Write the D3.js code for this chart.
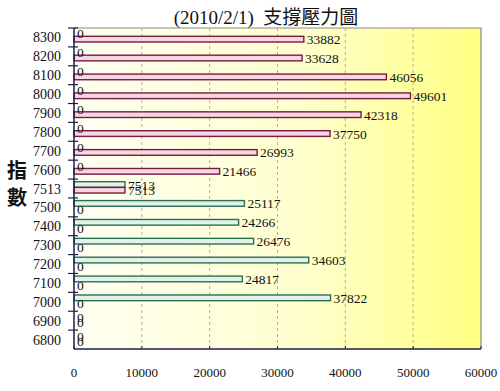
<!DOCTYPE html>
<html><head><meta charset="utf-8">
<script src="https://cdn.jsdelivr.net/npm/d3@7"></script>
<style>body{margin:0;background:#fff}</style>
</head><body><svg id="c" width="500" height="391"></svg>
<script>
const categories = ["8300","8200","8100","8000","7900","7800","7700","7600","7513","7500","7400","7300","7200","7100","7000","6900","6800"];
const support  = [0,0,0,0,0,0,0,0,7513,25117,24266,26476,34603,24817,37822,0,0];
const pressure = [33882,33628,46056,49601,42318,37750,26993,21466,7513,0,0,0,0,0,0,0,0];
const xTicks = [0,10000,20000,30000,40000,50000,60000];
const title = "(2010/2/1)  支撐壓力圖";
const axisTitle = ["指","數"];

const svg = d3.select("#c");
const L=74, R=481, T=28, B=349;
const x = d3.scaleLinear().domain([0,60000]).range([L,R]);
const y = d3.scaleBand().domain(categories).range([T,B]);
const serif = "'Liberation Serif','Times New Roman',serif";

const defs = svg.append("defs");
const g = defs.append("linearGradient").attr("id","bg");
g.append("stop").attr("offset","0%").attr("stop-color","#fffff2");
g.append("stop").attr("offset","55%").attr("stop-color","#ffffd0");
g.append("stop").attr("offset","100%").attr("stop-color","#ffff80");
svg.append("rect").attr("x",L).attr("y",T).attr("width",R-L).attr("height",B-T).attr("fill","url(#bg)");

// grid
svg.append("g").selectAll("line").data(xTicks.slice(1,-1)).join("line")
  .attr("x1",d=>x(d)).attr("x2",d=>x(d)).attr("y1",T).attr("y2",B)
  .attr("stroke","#9a9a9a").attr("stroke-dasharray","3,3").attr("stroke-width",0.8);

// border top/right
svg.append("path").attr("d",`M${L},${T}H${R}V${B}`).attr("fill","none").attr("stroke","#8a8a8a").attr("stroke-width",1.2);

const bw = y.bandwidth();
const off = bw*0.14, bh = bw*0.3;
const series = [
  {vals:support, slot:0, stroke:"#2a7050", fill:"#e2f2ea"},
  {vals:pressure, slot:1, stroke:"#761c3c", fill:"#f6d6e2"}
];
series.forEach(s=>{
  const data = categories.map((c,i)=>({c, v:s.vals[i]}));
  svg.append("g").selectAll("rect").data(data.filter(d=>d.v>0)).join("rect")
    .attr("x",L).attr("y",d=>y(d.c)+off+s.slot*bh)
    .attr("width",d=>x(d.v)-L).attr("height",bh)
    .attr("fill",s.fill).attr("stroke",s.stroke).attr("stroke-width",1.4);
  s.data = data;
});
series.forEach(s=>{
  svg.append("g").selectAll("text").data(s.data).join("text")
    .attr("x",d=>x(d.v)+3)
    .attr("y",d=>y(d.c)+off+s.slot*bh+bh/2+5)
    .attr("font-family",serif).attr("font-size",13.5).attr("fill","#111")
    .text(d=>d.v);
});

// left axis
svg.append("line").attr("x1",L).attr("x2",L).attr("y1",T).attr("y2",B).attr("stroke","#1c1c4e").attr("stroke-width",1.5);
const bounds = categories.map(c=>y(c));
svg.append("g").selectAll("line").data(bounds).join("line")
  .attr("x1",L-6).attr("x2",L+4).attr("y1",d=>d).attr("y2",d=>d)
  .attr("stroke","#1c1c4e").attr("stroke-width",1.2);
svg.append("g").selectAll("text").data(categories).join("text")
  .attr("x",61).attr("y",d=>y(d)+bw/2+5)
  .attr("text-anchor","end").attr("font-family",serif).attr("font-size",14).attr("fill","#111")
  .text(d=>d);

// bottom axis
svg.append("line").attr("x1",L).attr("x2",R).attr("y1",B).attr("y2",B).attr("stroke","#1c1c4e").attr("stroke-width",1.5);
svg.append("g").selectAll("line").data(xTicks).join("line")
  .attr("x1",d=>x(d)).attr("x2",d=>x(d)).attr("y1",B).attr("y2",B-3)
  .attr("stroke","#1c1c4e").attr("stroke-width",1);
svg.append("g").selectAll("text").data(xTicks).join("text")
  .attr("x",d=>x(d)).attr("y",377)
  .attr("text-anchor","middle").attr("font-family",serif).attr("font-size",13).attr("fill","#111")
  .text(d=>d);

// title
svg.append("text").attr("x",266).attr("y",24).attr("text-anchor","middle")
  .attr("font-family","'Liberation Serif','Noto Sans CJK TC',serif").attr("font-size",19).attr("fill","#111")
  .attr("xml:space","preserve").style("white-space","pre").text(title);

// axis title
svg.append("g").selectAll("text").data(axisTitle).join("text")
  .attr("x",17).attr("y",(d,i)=>178+i*27).attr("text-anchor","middle")
  .attr("font-family","'Noto Sans CJK TC',sans-serif").attr("font-weight","bold").attr("font-size",20).attr("fill","#111")
  .text(d=>d);
</script></body></html>
